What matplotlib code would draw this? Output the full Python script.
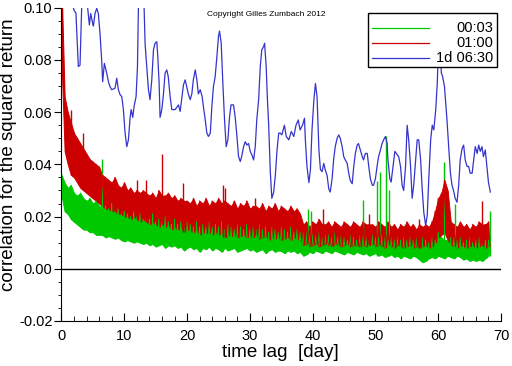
import numpy as np
import matplotlib
matplotlib.use('Agg')
import matplotlib.pyplot as plt
from matplotlib.ticker import MultipleLocator, FormatStrFormatter
from matplotlib.patches import Rectangle
from matplotlib.lines import Line2D

plt.rcParams['font.family'] = ['Liberation Sans', 'DejaVu Sans']
plt.rcParams['axes.unicode_minus'] = False

# ------------------------------------------------------------
# data
# green / red: local top and bottom of the noisy band, every half day,
# plus the isolated spikes that stick out of the band
# ------------------------------------------------------------
BAND_STEP = 0.5  # day

green_hi = [
    0.036, 0.033, 0.031, 0.032, 0.029, 0.028, 0.029, 0.027, 0.026, 0.027, 0.025, 0.026, 0.024,
    0.024, 0.024, 0.023, 0.025, 0.022, 0.023, 0.021, 0.022, 0.021, 0.020, 0.022, 0.020,
    0.021, 0.019, 0.020, 0.019, 0.021, 0.018, 0.019, 0.018, 0.020, 0.018, 0.017, 0.019,
    0.017, 0.018, 0.016, 0.018, 0.017, 0.016, 0.018, 0.016, 0.017, 0.016, 0.018, 0.016,
    0.017, 0.016, 0.018, 0.015, 0.017, 0.016, 0.015, 0.017, 0.016, 0.015, 0.017, 0.015,
    0.016, 0.015, 0.017, 0.015, 0.016, 0.014, 0.016, 0.015, 0.014, 0.016, 0.015, 0.014,
    0.016, 0.014, 0.015, 0.014, 0.015, 0.014, 0.014, 0.013, 0.013, 0.014, 0.012, 0.013,
    0.013, 0.012, 0.014, 0.012, 0.013, 0.012, 0.011, 0.013, 0.012, 0.011, 0.013, 0.012,
    0.012, 0.011, 0.013, 0.012, 0.012, 0.013, 0.012, 0.011, 0.012, 0.011, 0.013, 0.011,
    0.012, 0.011, 0.013, 0.011, 0.012, 0.010, 0.012, 0.011, 0.010, 0.012, 0.011, 0.014,
    0.012, 0.011, 0.011, 0.012, 0.012, 0.011, 0.012, 0.010, 0.011, 0.012, 0.010, 0.011,
    0.012, 0.010, 0.011, 0.011,
]
green_lo = [
    0.028, 0.022, 0.021, 0.019, 0.018, 0.017, 0.016, 0.015, 0.015, 0.014, 0.014, 0.013, 0.013,
    0.013, 0.012, 0.0125, 0.012, 0.0115, 0.012, 0.011, 0.0105, 0.011, 0.0105, 0.010, 0.0105,
    0.010, 0.0095, 0.010, 0.009, 0.0095, 0.0085, 0.009, 0.0095, 0.008, 0.009, 0.0085, 0.009,
    0.008, 0.0085, 0.007, 0.008, 0.0085, 0.0075, 0.008, 0.0065, 0.008, 0.0075, 0.0085, 0.007,
    0.008, 0.0075, 0.0065, 0.008, 0.007, 0.0075, 0.008, 0.0065, 0.007, 0.0075, 0.008, 0.007,
    0.0075, 0.0065, 0.007, 0.0075, 0.006, 0.007, 0.0075, 0.0065, 0.007, 0.0068, 0.006, 0.007,
    0.0065, 0.007, 0.006, 0.0065, 0.005, 0.0055, 0.0065, 0.006, 0.007, 0.0065, 0.006, 0.007,
    0.0065, 0.006, 0.007, 0.0065, 0.006, 0.0055, 0.0065, 0.006, 0.0055, 0.0065, 0.006, 0.0055,
    0.006, 0.005, 0.0055, 0.006, 0.005, 0.0055, 0.0045, 0.005, 0.0055, 0.0045, 0.005, 0.004,
    0.005, 0.0045, 0.004, 0.005, 0.0045, 0.0035, 0.0025, 0.003, 0.004, 0.0045, 0.004, 0.005,
    0.0045, 0.004, 0.005, 0.0045, 0.004, 0.005, 0.0045, 0.0035, 0.004, 0.003, 0.0035, 0.003,
    0.0035, 0.003, 0.004, 0.005,
]
green_spike_lag = [6.4, 39.3, 39.7, 48.1, 50.3, 50.8, 51.75, 52.1, 60.9, 62.6, 68.2]
green_spike_val = [0.042, 0.023, 0.022, 0.0265, 0.0335, 0.037, 0.051, 0.030, 0.041, 0.025, 0.022]

red_hi = [
    0.110, 0.066, 0.060, 0.056, 0.052, 0.050, 0.048, 0.046, 0.044, 0.042, 0.041, 0.040, 0.039,
    0.036, 0.035, 0.034, 0.033, 0.035, 0.032, 0.031, 0.033, 0.030, 0.031, 0.029, 0.030,
    0.029, 0.030, 0.029, 0.028, 0.029, 0.027, 0.030, 0.028, 0.028, 0.029, 0.027, 0.028,
    0.026, 0.027, 0.026, 0.026, 0.025, 0.027, 0.024, 0.026, 0.025, 0.027, 0.024, 0.026,
    0.025, 0.027, 0.025, 0.026, 0.025, 0.024, 0.026, 0.023, 0.025, 0.024, 0.026, 0.023,
    0.024, 0.024, 0.023, 0.025, 0.022, 0.024, 0.023, 0.025, 0.022, 0.024, 0.023, 0.022,
    0.024, 0.022, 0.023, 0.021, 0.017, 0.018, 0.016, 0.018, 0.017, 0.019, 0.017, 0.017,
    0.018, 0.016, 0.018, 0.017, 0.016, 0.018, 0.017, 0.016, 0.018, 0.017, 0.016, 0.018,
    0.017, 0.017, 0.017, 0.016, 0.018, 0.017, 0.016, 0.018, 0.016, 0.017, 0.015, 0.017,
    0.016, 0.018, 0.016, 0.017, 0.015, 0.017, 0.016, 0.017, 0.016, 0.018, 0.022, 0.027,
    0.029, 0.034, 0.030, 0.018, 0.017, 0.016, 0.018, 0.016, 0.017, 0.015, 0.017, 0.016,
    0.018, 0.017, 0.017, 0.018,
]
red_lo = [
    0.080, 0.045, 0.040, 0.036, 0.035, 0.033, 0.031, 0.030, 0.029, 0.028, 0.027, 0.026, 0.025,
    0.024, 0.023, 0.023, 0.022, 0.022, 0.021, 0.021, 0.020, 0.020, 0.019, 0.020, 0.019,
    0.018, 0.019, 0.018, 0.017, 0.018, 0.017, 0.016, 0.017, 0.016, 0.017, 0.015, 0.016,
    0.015, 0.016, 0.014, 0.015, 0.0145, 0.014, 0.015, 0.013, 0.014, 0.0135, 0.014, 0.013,
    0.014, 0.013, 0.0135, 0.012, 0.013, 0.0125, 0.013, 0.012, 0.0125, 0.013, 0.012, 0.0125,
    0.012, 0.013, 0.0115, 0.012, 0.0125, 0.011, 0.012, 0.0115, 0.012, 0.011, 0.0115, 0.012,
    0.011, 0.012, 0.0115, 0.011, 0.009, 0.0095, 0.0085, 0.009, 0.0095, 0.0085, 0.009, 0.0095,
    0.009, 0.0085, 0.0095, 0.009, 0.0085, 0.009, 0.0095, 0.0085, 0.009, 0.0088, 0.0085, 0.009,
    0.0085, 0.009, 0.0095, 0.0085, 0.009, 0.0085, 0.008, 0.009, 0.0085, 0.008, 0.009, 0.0085,
    0.008, 0.0085, 0.009, 0.008, 0.0085, 0.008, 0.0085, 0.009, 0.008, 0.0085, 0.010, 0.012,
    0.013, 0.014, 0.011, 0.009, 0.0085, 0.008, 0.009, 0.0085, 0.008, 0.0085, 0.009, 0.008,
    0.0085, 0.009, 0.008, 0.0085,
]
red_spike_lag = [1.5, 3.5, 12.0, 13.5, 16.0, 19.4, 25.8, 26.1, 30.8, 41.7, 48.9, 57.0, 66.9]
red_spike_val = [0.061, 0.052, 0.034, 0.034, 0.044, 0.033, 0.032, 0.031, 0.027, 0.023,
                 0.021, 0.019, 0.026]

# blue: traced point by point
blue_lag = [
    0.0, 1.0, 1.6, 1.78, 2.0, 2.3, 2.68, 2.95, 3.1, 3.22, 3.5, 4.0, 4.44, 4.65, 4.97, 5.08,
    5.34, 5.61, 5.87, 6.14, 6.4, 6.56, 6.83, 7.2, 7.47, 7.73, 8.0, 8.53, 8.8, 9.06, 9.33,
    9.6, 9.86, 10.13, 10.4, 10.66, 10.93, 11.1, 11.35, 11.56, 11.88, 12.1, 12.25, 12.6,
    13.0, 13.16, 13.32, 13.58, 13.85, 14.1, 14.38, 14.65, 14.9, 15.18, 15.34, 15.55, 15.7,
    15.98, 16.24, 16.5, 16.77, 17.0, 17.3, 17.57, 18.1, 18.63, 18.9, 19.2, 19.43, 19.7,
    20.2, 20.5, 20.76, 21.0, 21.3, 21.56, 21.8, 22.1, 22.4, 22.6, 22.9, 23.15, 23.4, 23.7,
    23.95, 24.2, 24.48, 24.75, 25.0, 25.17, 25.44, 25.7, 25.97, 26.23, 26.5, 26.76, 27.0,
    27.4, 27.67, 27.9, 28.2, 28.47, 28.7, 29.0, 29.27, 29.53, 29.8, 30.06, 30.33, 30.6,
    30.86, 31.1, 31.4, 31.66, 31.9, 32.2, 32.35, 32.6, 32.8, 33.0, 33.26, 33.5, 33.8,
    34.06, 34.33, 34.6, 34.85, 35.1, 35.5, 35.8, 36.2, 36.6, 37.0, 37.35, 37.7, 38.0,
    38.4, 38.7, 38.84, 39.1, 39.4, 39.65, 39.9, 40.2, 40.45, 40.7, 41.0, 41.24, 41.5,
    41.77, 42.0, 42.3, 42.57, 42.8, 43.1, 43.36, 43.6, 43.9, 44.16, 44.4, 44.7, 44.95,
    45.2, 45.5, 45.75, 46.0, 46.3, 46.55, 46.8, 47.1, 47.3, 47.6, 47.9, 48.1, 48.4, 48.7,
    48.94, 49.2, 49.5, 49.7, 50.0, 50.26, 50.5, 50.8, 51.06, 51.3, 51.6, 51.86, 52.0,
    52.3, 52.5, 52.8, 53.1, 53.5, 53.7, 54.0, 54.25, 54.5, 54.8, 55.05, 55.3, 55.6,
    55.85, 56.1, 56.4, 56.65, 56.9, 57.2, 57.45, 57.7, 58.0, 58.25, 58.5, 58.8, 59.05,
    59.3, 59.6, 59.85, 60.1, 60.27, 60.5, 60.7, 61.0, 61.16, 61.4, 61.7, 61.95, 62.2,
    62.5, 62.7, 63.0, 63.26, 63.5, 63.8, 64.05, 64.3, 64.6, 64.85, 65.1, 65.4, 65.65,
    65.9, 66.2, 66.45, 66.7, 66.97, 67.2, 67.5, 67.75, 68.0, 68.3,
]
blue_corr = [
    0.140, 0.120, 0.103, 0.101, 0.099, 0.098, 0.0775, 0.078, 0.090, 0.1005, 0.106, 0.104,
    0.0934, 0.0978, 0.094, 0.093, 0.0978, 0.0998, 0.0978, 0.090, 0.080, 0.0717, 0.0787,
    0.075, 0.0717, 0.0698, 0.0686, 0.0692, 0.073, 0.0686, 0.0667, 0.066, 0.061, 0.052,
    0.0468, 0.0494, 0.058, 0.061, 0.058, 0.0622, 0.066, 0.0775, 0.0998, 0.108, 0.104,
    0.0998, 0.086, 0.0775, 0.0686, 0.0648, 0.0724, 0.0839, 0.0864, 0.087, 0.0813, 0.071,
    0.058, 0.061, 0.067, 0.075, 0.0762, 0.0737, 0.066, 0.061, 0.061, 0.0628, 0.0603,
    0.066, 0.0705, 0.0724, 0.067, 0.0648, 0.067, 0.0724, 0.0762, 0.0724, 0.067, 0.0686,
    0.066, 0.0622, 0.057, 0.052, 0.0507, 0.052, 0.0622, 0.0698, 0.0737, 0.0813, 0.089,
    0.0911, 0.0864, 0.071, 0.057, 0.0468, 0.0494, 0.058, 0.0628, 0.0628, 0.058, 0.052,
    0.043, 0.0411, 0.043, 0.0468, 0.0487, 0.0474, 0.048, 0.045, 0.0436, 0.0417, 0.0468,
    0.057, 0.0648, 0.0775, 0.0839, 0.0852, 0.0864, 0.0775, 0.0648, 0.055, 0.037, 0.027,
    0.0294, 0.0358, 0.0455, 0.052, 0.052, 0.0513, 0.055, 0.0507, 0.0494, 0.0526, 0.0507,
    0.055, 0.057, 0.0532, 0.0551, 0.0577, 0.0494, 0.0392, 0.033, 0.038, 0.0532, 0.0648,
    0.071, 0.066, 0.0455, 0.038, 0.0372, 0.0404, 0.038, 0.0358, 0.0306, 0.0294, 0.0345,
    0.0422, 0.0468, 0.050, 0.0513, 0.050, 0.0468, 0.043, 0.0417, 0.0404, 0.0366, 0.0338,
    0.0326, 0.0392, 0.0442, 0.0474, 0.048, 0.0455, 0.043, 0.0417, 0.0442, 0.0442, 0.0392,
    0.0345, 0.032, 0.032, 0.0345, 0.0392, 0.043, 0.0455, 0.048, 0.0494, 0.0507, 0.048,
    0.0417, 0.0345, 0.0332, 0.0392, 0.045, 0.0436, 0.043, 0.0392, 0.032, 0.030, 0.0392,
    0.055, 0.0494, 0.0392, 0.027, 0.032, 0.0417, 0.0494, 0.0494, 0.0417, 0.0306, 0.0217,
    0.0166, 0.0204, 0.0345, 0.0494, 0.055, 0.0532, 0.0608, 0.071, 0.090, 0.0877, 0.075,
    0.0737, 0.0698, 0.0648, 0.057, 0.0455, 0.0366, 0.032, 0.0294, 0.027, 0.0255, 0.032,
    0.0417, 0.046, 0.0474, 0.0417, 0.0392, 0.0392, 0.0366, 0.0366, 0.0417, 0.0468, 0.0442,
    0.0474, 0.045, 0.0468, 0.043, 0.0455, 0.0392, 0.0332, 0.0294,
]

SERIES_LABELS = ['00:03', '01:00', '1d 06:30']
SERIES_COLORS = ['#00c800', '#cc0000', '#3434cc']


def draw_band(ax, hi, lo, spike_lag, spike_val, color):
    """noisy series: filled band between read top/bottom, spikes as thin lines"""
    hi = np.asarray(hi)
    lo = np.asarray(lo)
    lag = np.arange(len(hi)) * BAND_STEP
    ax.fill_between(lag, lo, hi, facecolor=color, edgecolor=color, lw=0.7)
    # zig-zag across the band for a bit of texture on the edges
    zx = np.empty(2 * len(hi))
    zy = np.empty(2 * len(hi))
    zx[0::2] = lag
    zx[1::2] = lag + BAND_STEP / 2
    zy[0::2] = hi
    zy[1::2] = lo
    ax.plot(zx, zy, color=color, lw=0.8)
    idx = np.clip(np.round(np.asarray(spike_lag) / BAND_STEP).astype(int), 0, len(lo) - 1)
    ax.vlines(spike_lag, lo[idx], spike_val, color=color, lw=1.0)


fig = plt.figure(figsize=(5.12, 3.66), dpi=100)
ax = fig.add_axes([0.1201, 0.1230, 0.8584, 0.8557])

draw_band(ax, green_hi, green_lo, green_spike_lag, green_spike_val, SERIES_COLORS[0])
draw_band(ax, red_hi, red_lo, red_spike_lag, red_spike_val, SERIES_COLORS[1])
ax.plot(blue_lag, blue_corr, color=SERIES_COLORS[2], lw=0.9)
ax.axhline(0, color='black', lw=1.0, zorder=1)

ax.set_xlim(0, 70)
ax.set_ylim(-0.02, 0.10)
ax.spines['top'].set_visible(False)
ax.spines['right'].set_visible(False)
ax.xaxis.set_major_locator(MultipleLocator(10))
ax.xaxis.set_minor_locator(MultipleLocator(2))
ax.yaxis.set_major_locator(MultipleLocator(0.02))
ax.yaxis.set_minor_locator(MultipleLocator(0.005))
ax.yaxis.set_major_formatter(FormatStrFormatter('%.2f'))
ax.tick_params(axis='x', which='major', direction='in', length=6, pad=6, labelsize=10.5)
ax.tick_params(axis='x', which='minor', direction='in', length=3.5)
ax.tick_params(axis='y', which='major', direction='out', length=5, pad=1.5, labelsize=10.5)
ax.tick_params(axis='y', which='minor', direction='out', length=2.5)

ax.set_xlabel('time lag  [day]', fontsize=13.5)
ax.set_ylabel('correlation for the squared return', fontsize=13.5)
ax.xaxis.set_label_coords(0.497, -0.072)
ax.yaxis.set_label_coords(-0.101, 0.53)

ax.text(0.465, 0.977, 'Copyright Gilles Zumbach 2012', transform=ax.transAxes,
        ha='center', va='center', fontsize=6)

# legend drawn by hand: text is right aligned in the original
ax.add_patch(Rectangle((0.697, 0.812), 0.294, 0.170, transform=ax.transAxes,
                       facecolor='white', edgecolor='black', lw=1.0, zorder=5))
for row, (lab, col) in enumerate(zip(SERIES_LABELS, SERIES_COLORS)):
    yy = 0.936 - row * 0.0485
    ax.add_line(Line2D([0.706, 0.837], [yy, yy], transform=ax.transAxes,
                       color=col, lw=0.9, zorder=6))
    ax.text(0.982, yy, lab, transform=ax.transAxes, ha='right', va='center',
            fontsize=10.5, zorder=6)

fig.savefig('out.png', dpi=100)
